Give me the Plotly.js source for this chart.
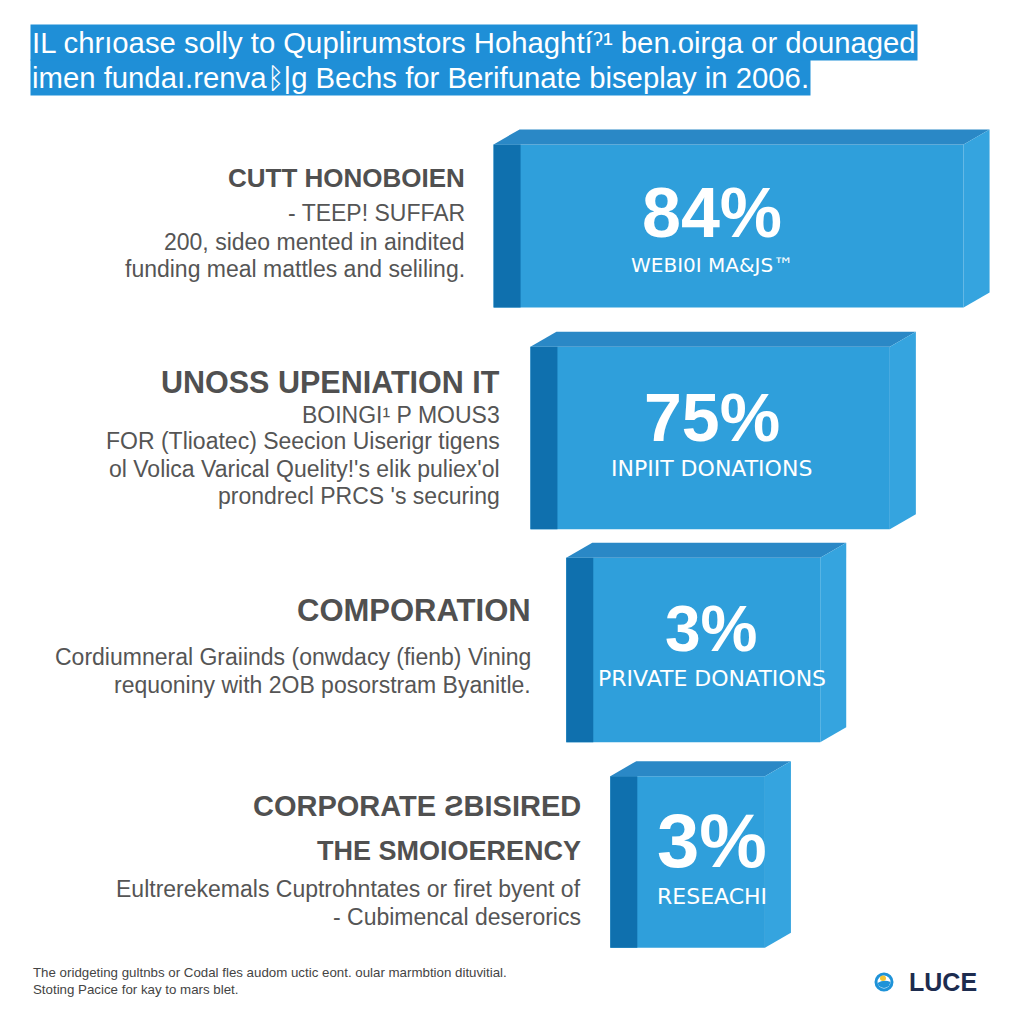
<!DOCTYPE html>
<html>
<head>
<meta charset="utf-8">
<script src="https://cdn.plot.ly/plotly-3.0.1.min.js"></script>
<style>html,body{margin:0;padding:0;background:#fff;}#chart{width:1024px;height:1024px;}</style>
</head>
<body>
<div id="chart"></div>
<script>
// ---------- data ----------
const categories = ['WEBI0I MA&JS™', 'INPIIT DONATIONS', 'PRIVATE DONATIONS', 'RESEACHI'];
const shares = [84, 75, 3, 3];
// block extent on a 0-100 horizontal scale
const barStart = [48.2, 51.8, 55.3, 59.6];
const barEnd = [94.1, 86.9, 80.1, 74.7];
const headings = [
  ['CUTT HONOBOIEN'],
  ['UNOSS UPENIATION IT'],
  ['COMPORATION'],
  ['CORPORATE ƧBISIRED', 'THE SMOIOERENCY']
];
const notes = [
  ['- TEEP! SUFFAR', '200, sideo mented in aindited', 'funding meal mattles and seliling.'],
  ['BOINGI¹ P MOUS3', 'FOR (Tlioatec) Seecion Uiserigr tigens', "ol Volica Varical Quelity!'s elik puliex'ol", "prondrecl PRCS 's securing"],
  ['Cordiumneral Graiinds (onwdacy (fienb) Vining', 'requoniny with 2OB posorstram Byanitle.'],
  ['Eultrerekemals Cuptrohntates or firet byent of', '- Cubimencal deserorics']
];
const titleLines = [
  'IL chrıoase solly to Quplirumstors Hohaghtíˀ¹ ben.oirga or dounaged',
  'imen fundaı.renvaᛒ|g Bechs for Berifunate biseplay in 2006.'
];
const footerLines = [
  'The oridgeting gultnbs or Codal fles audom uctic eont. oular marmbtion dituvitial.',
  'Stoting Pacice for kay to mars blet.'
];
const logoText = 'LUCE';

// ---------- styling ----------
const FONT = 'Liberation Sans, Arial, Helvetica, sans-serif';
const FONT_SUB = 'DejaVu Sans, Open Sans, sans-serif';
const FRONT = '#2f9fdb';
const STRIP = '#0f70ae';
const TOP = '#2a88c6';
const SIDE = '#35a4df';
const GREY = '#555555';
const PX_X = 1024 / 100;          // px per x unit
const PX_Y = 212;                 // px per category row
const depthX = 26 / PX_X;         // oblique depth (x units)
const depthY = 15 / PX_Y;         // oblique depth (y units)
const stripW = 27 / PX_X;
const barW = [0.77, 0.86, 0.87, 0.81];
const yIdx = categories.map((_, i) => i);
const labelX = 69.5;

const traces = [
  {
    type: 'bar', orientation: 'h',
    y: yIdx, base: barStart, x: barStart.map((s, i) => barEnd[i] - s),
    width: barW, marker: {color: FRONT, line: {width: 0}},
    hoverinfo: 'skip', showlegend: false
  },
  {
    type: 'bar', orientation: 'h',
    y: yIdx, base: barStart, x: barStart.map(() => stripW),
    width: barW, marker: {color: STRIP, line: {width: 0}},
    hoverinfo: 'skip', showlegend: false
  }
];

const shapes = [];
yIdx.forEach(i => {
  const s = barStart[i], e = barEnd[i];
  const yT = i - barW[i] / 2, yB = i + barW[i] / 2;
  shapes.push({type: 'path', xref: 'x', yref: 'y', layer: 'above', line: {width: 0}, fillcolor: TOP,
    path: `M${s},${yT} L${s + depthX},${yT - depthY} L${e + depthX},${yT - depthY} L${e},${yT} Z`});
  shapes.push({type: 'path', xref: 'x', yref: 'y', layer: 'above', line: {width: 0}, fillcolor: SIDE,
    path: `M${e},${yT} L${e + depthX},${yT - depthY} L${e + depthX},${yB - depthY} L${e},${yB} Z`});
});

// logo icon (paper coords = page fractions)
const px = v => v / 1024, py = v => 1 - v / 1024;
shapes.push({type: 'circle', xref: 'paper', yref: 'paper', x0: px(874.5), x1: px(893.5), y0: py(991.5), y1: py(972.5),
  fillcolor: '#1f93d8', line: {width: 0}});
shapes.push({type: 'circle', xref: 'paper', yref: 'paper', x0: px(877.5), x1: px(890.5), y0: py(988.5), y1: py(975.5),
  fillcolor: '#ffffff', line: {width: 0}});
shapes.push({type: 'path', xref: 'paper', yref: 'paper', fillcolor: '#1f93d8', line: {width: 0},
  path: `M${px(877.5)},${py(983)} Q${px(884)},${py(979)} ${px(890.5)},${py(982)} L${px(889)},${py(986)} Q${px(884)},${py(990)} ${px(879)},${py(986)} Z`});
shapes.push({type: 'circle', xref: 'paper', yref: 'paper', x0: px(880), x1: px(886), y0: py(981), y1: py(975.5),
  fillcolor: '#f4c430', line: {width: 0}});

const annotations = [];
// text line offsets from the block centre (px, down positive)
const headOff = [[-48], [-56], [-40], [-56, -11]];
const noteOff = [[-13, 16, 43], [-23, 3, 31, 58], [7, 35], [27, 55]];
const headSize = [[26], [30.5], [31], [29, 27]];
const noteSize = 23;
const textGap = [-27, -28, -33, -27];
yIdx.forEach(i => {
  headings[i].forEach((t, k) => annotations.push({
    x: barStart[i], y: i, xref: 'x', yref: 'y', xanchor: 'right', yanchor: 'middle', align: 'right',
    xshift: textGap[i], yshift: -headOff[i][k], showarrow: false,
    text: '<b>' + t + '</b>', font: {family: FONT, size: headSize[i][k], color: '#505050'}
  }));
  notes[i].forEach((t, k) => annotations.push({
    x: barStart[i], y: i, xref: 'x', yref: 'y', xanchor: 'right', yanchor: 'middle', align: 'right',
    xshift: textGap[i], yshift: -noteOff[i][k], showarrow: false,
    text: t, font: {family: FONT, size: noteSize, color: GREY}
  }));
});
// inside labels: share above, category below a common split line
const pctSize = [70, 68, 64, 76];
const subSize = [20, 22, 22, 22];
const splitOff = [26, 17.5, 15, 21];   // px below block centre
yIdx.forEach(i => {
  annotations.push({x: labelX, y: i, xref: 'x', yref: 'y', yanchor: 'bottom', yshift: -splitOff[i] + 0.5,
    borderpad: 0, borderwidth: 0, showarrow: false,
    text: '<b>' + shares[i] + '%</b>', font: {family: FONT, size: pctSize[i], color: '#ffffff'}});
  annotations.push({x: labelX, y: i, xref: 'x', yref: 'y', yanchor: 'top', yshift: -splitOff[i] - 0.5,
    borderpad: 0, borderwidth: 0, showarrow: false,
    text: categories[i], font: {family: FONT_SUB, size: subSize[i], color: '#ffffff'}});
});
// title (second line first so the first line's box sits on top)
annotations.push({xref: 'paper', yref: 'paper', x: px(30), y: py(96), xanchor: 'left', yanchor: 'bottom', align: 'left',
  showarrow: false, text: titleLines[1], bgcolor: '#1f8fd7', borderpad: 1,
  font: {family: FONT, size: 29.3, color: '#ffffff'}});
annotations.push({xref: 'paper', yref: 'paper', x: px(30), y: py(24), xanchor: 'left', yanchor: 'top', align: 'left',
  showarrow: false, text: titleLines[0], bgcolor: '#1f8fd7', borderpad: 1,
  font: {family: FONT, size: 29.3, color: '#ffffff'}});
// footer
annotations.push({xref: 'paper', yref: 'paper', x: px(31), y: py(963), xanchor: 'left', yanchor: 'top', align: 'left',
  showarrow: false, text: footerLines.join('<br>'), font: {family: FONT, size: 13.3, color: '#444444'}});
// logo text
annotations.push({xref: 'paper', yref: 'paper', x: px(907), y: py(982), xanchor: 'left', yanchor: 'middle',
  showarrow: false, text: '<b>' + logoText + '</b>', font: {family: FONT, size: 25, color: '#1d2c4f'}});

const layout = {
  width: 1024, height: 1024, autosize: false,
  margin: {l: 0, r: 0, t: 0, b: 0, pad: 0},
  paper_bgcolor: '#ffffff', plot_bgcolor: '#ffffff',
  barmode: 'overlay',
  xaxis: {range: [0, 100], domain: [0, 1], visible: false, fixedrange: true},
  yaxis: {range: [3.5, -0.5], domain: [56 / 1024, 904 / 1024], visible: false, fixedrange: true},
  shapes: shapes, annotations: annotations, showlegend: false,
  font: {family: FONT}
};

Plotly.newPlot('chart', traces, layout, {displayModeBar: false, staticPlot: true});
</script>
</body>
</html>
